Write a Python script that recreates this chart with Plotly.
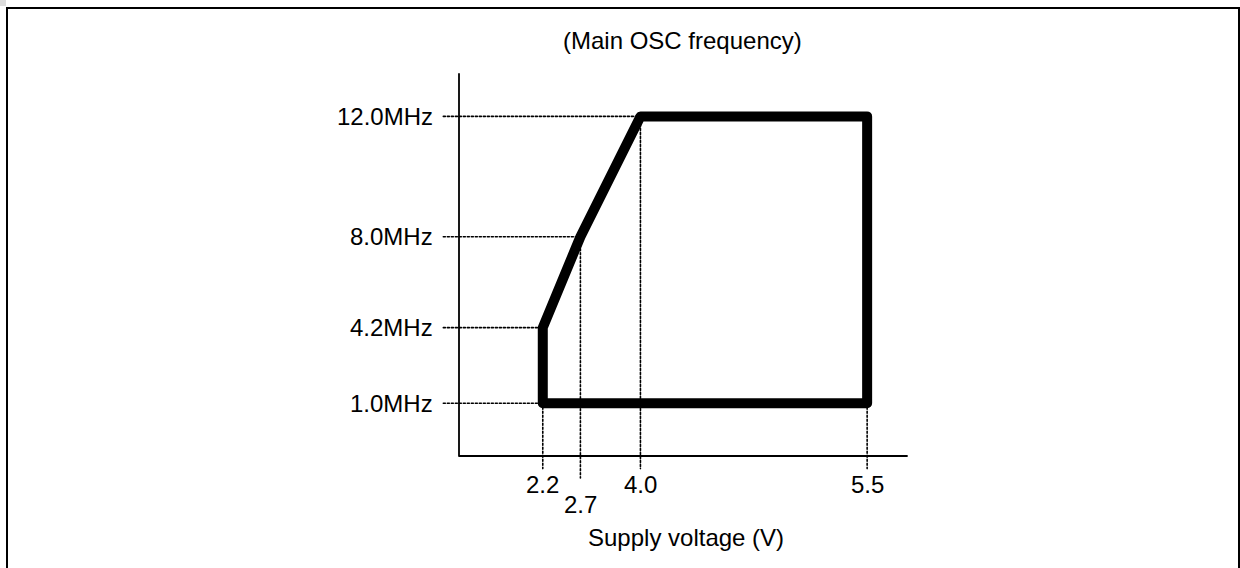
import plotly.graph_objects as go

# ---- data (schematic operating-range diagram) ----
volt_labels = ["2.2", "2.7", "4.0", "5.5"]
volt_pos = [1.87, 2.71, 4.05, 9.11]          # schematic positions along the voltage axis
freq_labels = ["1.0MHz", "4.2MHz", "8.0MHz", "12.0MHz"]
freq_pos = [1.38, 3.36, 5.74, 8.89]          # schematic positions along the frequency axis

boundary_v = ["2.2", "2.2", "2.7", "4.0", "5.5", "5.5", "2.2"]
boundary_f = ["1.0MHz", "4.2MHz", "8.0MHz", "12.0MHz", "12.0MHz", "1.0MHz", "1.0MHz"]

# guide lines: each voltage label drops from the frequency level it belongs to
v_guide_from = {"2.2": "1.0MHz", "2.7": "8.0MHz", "4.0": "12.0MHz", "5.5": "1.0MHz"}
f_guide_to = {"1.0MHz": "2.2", "4.2MHz": "2.2", "8.0MHz": "2.7", "12.0MHz": "4.0"}

title_top = "(Main OSC frequency)"
title_x = "Supply voltage (V)"

vmap = dict(zip(volt_labels, volt_pos))
fmap = dict(zip(freq_labels, freq_pos))

FONT = "Liberation Sans, Arial, sans-serif"
FS = 24

W, H = 1240, 568
ML, MR, MT, MB = 437, 323, 68, 86
XR = [-0.491, 10.223]
YR = [-0.681, 10.157]
AX_TOP = 10.0
AX_RIGHT = 10.0
H_GUIDE_START = -0.35
V_GUIDE_END = -0.33
V_GUIDE_END_LOW = -0.576

fig = go.Figure()

# dotted guides
gx, gy = [], []
for f in freq_labels:
    gx += [H_GUIDE_START, vmap[f_guide_to[f]], None]
    gy += [fmap[f], fmap[f], None]
for v in volt_labels:
    end = V_GUIDE_END_LOW if v == "2.7" else V_GUIDE_END
    gx += [vmap[v], vmap[v], None]
    gy += [fmap[v_guide_from[v]], end, None]
fig.add_trace(go.Scatter(x=gx, y=gy, mode="lines", hoverinfo="skip",
                         line=dict(color="black", width=1.6, dash="2px,2px"),
                         showlegend=False))

# axis lines
fig.add_trace(go.Scatter(x=[0, 0, AX_RIGHT], y=[AX_TOP, 0, 0], mode="lines",
                         line=dict(color="black", width=1.8), hoverinfo="skip",
                         showlegend=False))

# operating range boundary
fig.add_trace(go.Scatter(x=[vmap[v] for v in boundary_v],
                         y=[fmap[f] for f in boundary_f],
                         mode="lines", line=dict(color="black", width=10),
                         showlegend=False))

pw = W - ML - MR
ph = H - MT - MB


def px_x(p):
    return (p - ML) / pw


def px_y(p):
    return (H - MB - p) / ph


ann = []
for f in freq_labels:
    ann.append(dict(x=px_x(435), xref="paper", xanchor="right",
                    y=fmap[f], yref="y", yanchor="middle",
                    text=f, showarrow=False))
for v in volt_labels:
    yy = 504 if v == "2.7" else 484
    ann.append(dict(x=vmap[v], xref="x", xanchor="center",
                    y=px_y(yy), yref="paper", yanchor="middle",
                    text=v, showarrow=False))
ann.append(dict(x=px_x(686), xref="paper", xanchor="center",
                y=px_y(537), yref="paper", yanchor="middle",
                text=title_x, showarrow=False))
ann.append(dict(x=px_x(682), xref="paper", xanchor="center",
                y=px_y(41), yref="paper", yanchor="middle",
                text=title_top, showarrow=False))

shapes = [
    dict(type="rect", xref="paper", yref="paper",
         x0=px_x(7), x1=px_x(1239), y0=px_y(8), y1=px_y(620),
         line=dict(color="black", width=2), fillcolor="rgba(0,0,0,0)"),
    dict(type="rect", xref="paper", yref="paper",
         x0=px_x(0), x1=px_x(6), y0=px_y(0), y1=px_y(6),
         line=dict(width=0), fillcolor="#dddddd"),
]

fig.update_layout(
    width=W, height=H, autosize=False,
    margin=dict(l=ML, r=MR, t=MT, b=MB, pad=0),
    paper_bgcolor="white", plot_bgcolor="white",
    font=dict(family=FONT, size=FS, color="black"),
    xaxis=dict(range=XR, visible=False, fixedrange=True),
    yaxis=dict(range=YR, visible=False, fixedrange=True),
    annotations=ann, shapes=shapes, showlegend=False,
)

post = (
    "document.body.style.margin='0';"
    "document.body.style.overflow='hidden';"
    "document.querySelectorAll('.scatterlayer .js-line').forEach(function(p){"
    "p.style.strokeLinejoin='round';p.style.strokeLinecap='round';});"
)

fig.write_html("out.html", config={"displayModeBar": False}, post_script=post)
